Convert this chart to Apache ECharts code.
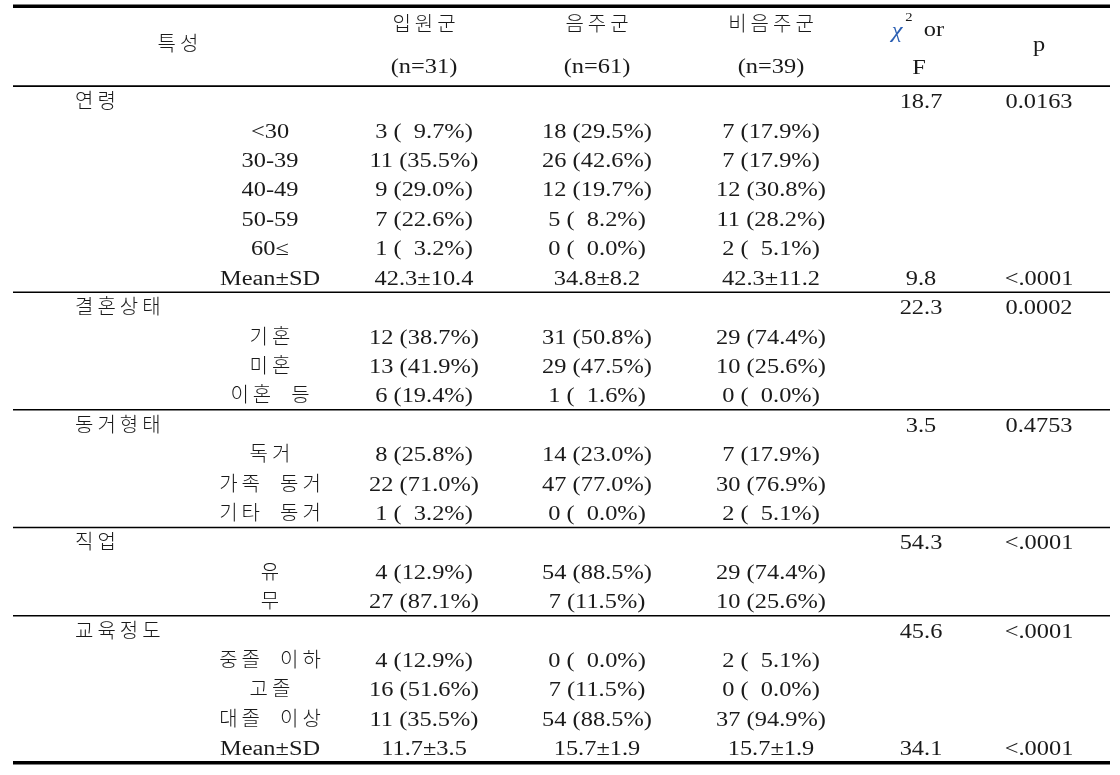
<!DOCTYPE html>
<html>
<head>
<meta charset="utf-8">
<script src="https://cdn.jsdelivr.net/npm/echarts@6/dist/echarts.min.js"></script>
<style>
  html, body { margin: 0; padding: 0; background: #fff; }
  #main { width: 1120px; height: 775px; }
</style>
</head>
<body>
<div id="main"></div>
<script>
// 표 데이터
const groups = ['입원군', '음주군', '비음주군'];
const groupN = [31, 61, 39];

const sectionNames = ['연령', '결혼상태', '동거형태', '직업', '교육정도'];
const sectionStat = ['18.7', '22.3', '3.5', '54.3', '45.6'];
const sectionP = ['0.0163', '0.0002', '0.4753', '<.0001', '<.0001'];

const ageLevels = ['<30', '30-39', '40-49', '50-59', '60≤'];
const ageCounts = [[3, 18, 7], [11, 26, 7], [9, 12, 12], [7, 5, 11], [1, 0, 2]];
const agePct = [[9.7, 29.5, 17.9], [35.5, 42.6, 17.9], [29.0, 19.7, 30.8], [22.6, 8.2, 28.2], [3.2, 0.0, 5.1]];
const ageMean = ['42.3±10.4', '34.8±8.2', '42.3±11.2'];
const ageMeanStat = ['9.8', '<.0001'];

const marLevels = ['기혼', '미혼', '이혼 등'];
const marCounts = [[12, 31, 29], [13, 29, 10], [6, 1, 0]];
const marPct = [[38.7, 50.8, 74.4], [41.9, 47.5, 25.6], [19.4, 1.6, 0.0]];

const livLevels = ['독거', '가족 동거', '기타 동거'];
const livCounts = [[8, 14, 7], [22, 47, 30], [1, 0, 2]];
const livPct = [[25.8, 23.0, 17.9], [71.0, 77.0, 76.9], [3.2, 0.0, 5.1]];

const jobLevels = ['유', '무'];
const jobCounts = [[4, 54, 29], [27, 7, 10]];
const jobPct = [[12.9, 88.5, 74.4], [87.1, 11.5, 25.6]];

const eduLevels = ['중졸 이하', '고졸', '대졸 이상'];
const eduCounts = [[4, 0, 2], [16, 7, 0], [11, 54, 37]];
const eduPct = [[12.9, 0.0, 5.1], [51.6, 11.5, 0.0], [35.5, 88.5, 94.9]];
const eduMean = ['11.7±3.5', '15.7±1.9', '15.7±1.9'];
const eduMeanStat = ['34.1', '<.0001'];

// 레이아웃
const colX = [75, 270, 424, 597, 771, 921, 1039];
const fontFam = "'Liberation Serif', 'Noto Sans CJK KR', serif";
const fs = 20;
const ink = '#1a1a1a';
const dy = 2;
const latinScale = 1.22;
const hangul = /[\uac00-\ud7a3]/;

// 한글 자간 흉내
function spaced(s) {
    let out = '';
    for (let i = 0; i < s.length; i++) {
        const ch = s[i];
        if (ch === ' ') { out += '\u2003'; continue; }
        out += ch;
        const nx = s[i + 1];
        if (nx && nx !== ' ' && hangul.test(ch) && hangul.test(nx)) out += '\u2009';
    }
    return out;
}

function cell(n, p) {
    let ps = p.toFixed(1);
    if (p < 10) ps = '\u2007' + ps;
    return n + ' (' + ps + '%)';
}

// 행 구성
let rows = [];
function addSection(si, levels, counts, pct, mean, meanStat) {
    rows.push({ cells: [spaced(sectionNames[si]), '', '', '', '', sectionStat[si], sectionP[si]], start: true });
    levels.forEach((lv, i) => {
        rows.push({ cells: ['', spaced(lv)].concat(counts[i].map((c, g) => cell(c, pct[i][g]))).concat(['', '']) });
    });
    if (mean) {
        rows.push({ cells: ['', 'Mean±SD'].concat(mean).concat(meanStat) });
    }
}
addSection(0, ageLevels, ageCounts, agePct, ageMean, ageMeanStat);
addSection(1, marLevels, marCounts, marPct);
addSection(2, livLevels, livCounts, livPct);
addSection(3, jobLevels, jobCounts, jobPct);
addSection(4, eduLevels, eduCounts, eduPct, eduMean, eduMeanStat);

const rowKeys = rows.map((r, i) => 'r' + i);

var myChart = echarts.init(document.getElementById('main'));

// 글자 요소 (라틴 문자는 가로로 조금 넓힘)
function txtEl(t, x, y, extra, scale) {
    return {
        type: 'text',
        x: x,
        y: y,
        scaleX: scale || (hangul.test(t) ? 1 : latinScale),
        style: Object.assign({
            text: t, x: 0, y: 0, align: 'center', verticalAlign: 'middle',
            fontSize: fs, fontFamily: fontFam, fontWeight: 300, fill: ink
        }, extra || {})
    };
}

function renderRow(params, api) {
    const idx = api.value(0);
    const row = rows[idx];
    const y = api.coord([0, idx])[1];
    const h = api.size([0, 1])[1];
    const x0 = api.coord([13, idx])[0];
    const x1 = api.coord([1110, idx])[0];
    let children = [];
    row.cells.forEach((t, c) => {
        if (!t) return;
        children.push(txtEl(t, api.coord([colX[c], idx])[0], y + dy, { align: c === 0 ? 'left' : 'center' }));
    });
    if (row.start) {
        children.push({
            type: 'line',
            shape: { x1: x0, y1: y - h / 2, x2: x1, y2: y - h / 2 },
            style: { stroke: '#000', lineWidth: 1.5 }
        });
    }
    if (idx === rows.length - 1) {
        children.push({
            type: 'line',
            shape: { x1: x0, y1: y + h / 2, x2: x1, y2: y + h / 2 },
            style: { stroke: '#000', lineWidth: 3.5 }
        });
    }
    return { type: 'group', children: children };
}

// 머리글
let header = [
    { type: 'rect', shape: { x: 13, y: 4.5, width: 1097, height: 3.5 }, style: { fill: '#000' } },
    { type: 'rect', shape: { x: 13, y: 85.5, width: 1097, height: 1.5 }, style: { fill: '#000' } },
    txtEl(spaced('특성'), 178, 46)
];
groups.forEach((g, i) => {
    header.push(txtEl(spaced(g), colX[i + 2], 26));
    header.push(txtEl('(n=' + groupN[i] + ')', colX[i + 2], 68));
});
header.push(txtEl('χ', 897, 32, { fontStyle: 'italic', fill: '#2b5fb3' }));
header.push(txtEl('2', 909, 18, { fontSize: 12 }));
header.push(txtEl('or', 934, 31));
header.push(txtEl('F', 919, 69));
header.push(txtEl('p', 1039, 46));

var option = {
    backgroundColor: '#fff',
    animation: false,
    grid: { left: 0, right: 0, top: 86.3, bottom: 12.3 },
    xAxis: { type: 'value', min: 0, max: 1120, show: false },
    yAxis: { type: 'category', data: rowKeys, inverse: true, show: false },
    graphic: header,
    series: [{
        type: 'custom',
        renderItem: renderRow,
        data: rows.map((r, i) => [i]),
        encode: { y: 0 },
        silent: true
    }]
};

myChart.setOption(option);
</script>
</body>
</html>
